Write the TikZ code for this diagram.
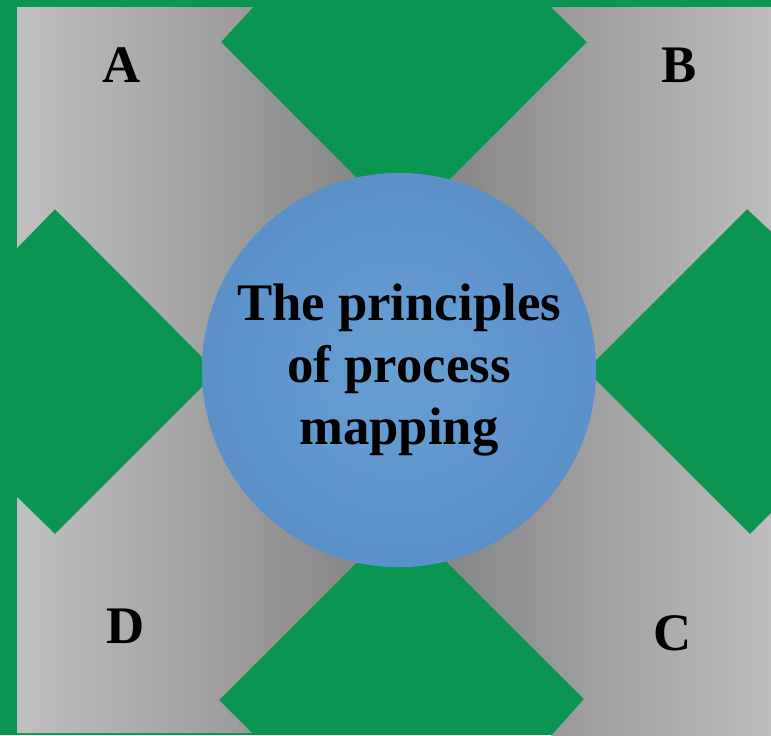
\documentclass[tikz,border=0pt]{standalone}
\usepackage{fontspec}
\setmainfont{Liberation Serif}

\definecolor{felt}{RGB}{11,149,82}
\definecolor{greylight}{RGB}{192,192,192}
\definecolor{greydark}{RGB}{128,128,128}
\definecolor{hubin}{RGB}{104,160,212}
\definecolor{hubout}{RGB}{78,128,190}
\pgfdeclareradialshading{hubglow}{\pgfpoint{0bp}{0bp}}{color(0bp)=(hubin); color(50bp)=(hubout)}

\begin{document}
\begin{tikzpicture}[x=0.01cm, y=-0.01cm,
    letter/.style={font=\bfseries\fontsize{15}{18}\selectfont, inner sep=0pt},
    hub/.style={circle, minimum size=3.94cm, inner sep=0pt, shading=hubglow,
      align=center, font=\bfseries\fontsize{15}{17.6}\selectfont}]
  \fill[felt] (0,0) rectangle (771,735);
  \path[clip] (0,0) rectangle (771,735);

  \coordinate (m) at (403,372);

  \shade[left color=greylight, right color=greydark]
    (17,7) -- (253,7) -- (221,42) -- (404,225) -- (m) -- (217,372) -- (55,209) -- (17,248) -- cycle;
  \shade[left color=greydark, right color=greylight]
    (789,7) -- (789,248) -- (747,209) -- (586,370) -- (m) -- (404,225) -- (587,42) -- (551,7) -- cycle;
  \shade[left color=greydark, right color=greylight]
    (789,737) -- (550,737) -- (584,699) -- (402,517) -- (m) -- (586,370) -- (750,534) -- (789,495) -- cycle;
  \shade[left color=greylight, right color=greydark]
    (17,733) -- (17,497) -- (55,534) -- (217,372) -- (m) -- (402,517) -- (219,700) -- (252,733) -- cycle;

  \node[hub] (hub) at (399,370) {The principles\\of process\\mapping};

  \node[letter] (A) at (122,65) {A};
  \node[letter] (B) at (679,65) {B};
  \node[letter] (C) at (673,633) {C};
  \node[letter] (D) at (126,626) {D};
\end{tikzpicture}
\end{document}
